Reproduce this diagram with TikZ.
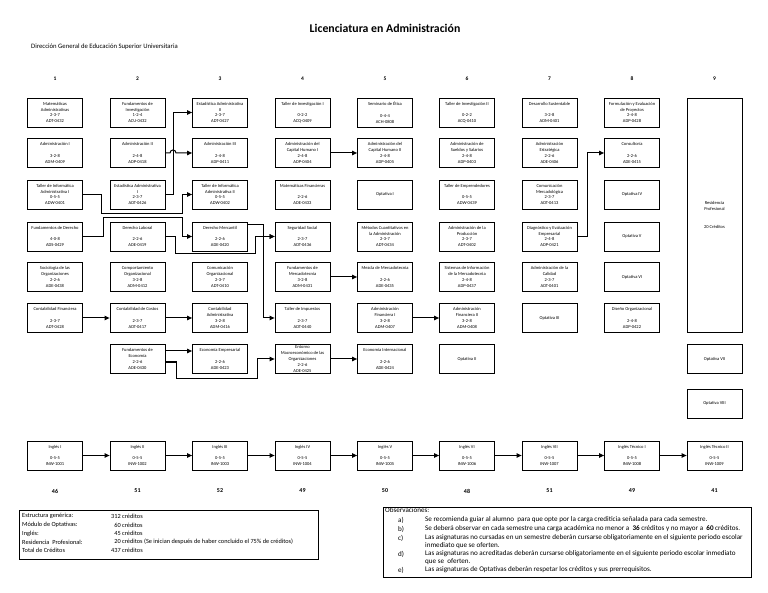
\documentclass[tikz,border=0pt]{standalone}
\usepackage{fontspec}
\setmainfont{Carlito}
\usetikzlibrary{positioning, arrows.meta}

\tikzset{
  materia/.style={draw, line width=0.8pt, minimum width=55pt, minimum height=29pt,
    inner sep=0pt, align=center, font=\fontsize{4.5}{5.8}\selectfont},
  flecha/.style={line width=1pt, -{Triangle[length=5pt,width=4.5pt]}},
  semestre/.style={font=\bfseries\fontsize{5.5}{6}\selectfont},
  total/.style={font=\bfseries\fontsize{6}{7}\selectfont},
  nota/.style={anchor=west, inner sep=0pt, font=\fontsize{6.3}{7}\selectfont},
  obsnota/.style={anchor=west, inner sep=0pt, font=\fontsize{7.1}{7.5}\selectfont},
}

\begin{document}
\begin{tikzpicture}[x=1pt,y=-1pt]
\useasboundingbox (0,0) rectangle (768,593);

\node[font=\bfseries\fontsize{11.8}{13}\selectfont] (titulo) at (385,28) {Licenciatura en Administración};
\node[anchor=west, inner sep=0pt, font=\fontsize{6.7}{7}\selectfont] (dgest) at (31,47) {Dirección General de Educación Superior Universitaria};

% semestres
\node[semestre] (N1) at (55,79) {1};
\node[semestre] (N2) at (137.5,79) {2};
\node[semestre] (N3) at (220,79) {3};
\node[semestre] (N4) at (302.5,79) {4};
\node[semestre] (N5) at (385,79) {5};
\node[semestre] (N6) at (467,79) {6};
\node[semestre] (N7) at (549.5,79) {7};
\node[semestre] (N8) at (632,79) {8};
\node[semestre] (N9) at (714.5,79) {9};

% semestre 1
\node[materia] (S11) at (55,112.5) {Matemáticas\\Administrativas\\2-3-7\\ADT-0432};
\node[materia] (S12) at (55,153) {Administración I\\[5.8pt]3-2-8\\ADM-0409};
\node[materia] (S13) at (55,194.5) {Taller de Informática\\Administrativa I\\0-5-5\\ADW-0401};
\node[materia] (S14) at (55,236.5) {Fundamentos de Derecho\\[5.8pt]4-0-8\\ADS-0429};
\node[materia] (S15) at (55,277) {Sociología de las\\Organizaciones\\2-2-6\\ADE-0438};
\node[materia] (S16) at (55,318) {Contabilidad Financiera\\[5.8pt]2-3-7\\ADT-0428};

% semestre 2
\node[materia] (S21) at (137.5,112.5) {Fundamentos de\\Investigación\\1-2-4\\ACU-0432};
\node[materia] (S22) at (137.5,153) {Administración II\\[5.8pt]2-4-8\\ADP-0418};
\node[materia] (S23) at (137.5,194.5) {Estadística Administrativa\\I\\2-3-7\\ADT-0426};
\node[materia] (S24) at (137.5,236.5) {Derecho Laboral\\[5.8pt]2-2-6\\ADE-0419};
\node[materia] (S25) at (137.5,277) {Comportamiento\\Organizacional\\3-2-8\\ADM-0412};
\node[materia] (S26) at (137.5,318) {Contabilidad de Costos\\[5.8pt]2-3-7\\ADT-0417};
\node[materia] (S27) at (137.5,359) {Fundamentos de\\Economía\\2-2-6\\ADE-0430};

% semestre 3
\node[materia] (S31) at (220,112.5) {Estadística Administrativa\\II\\2-3-7\\ADT-0427};
\node[materia] (S32) at (220,153) {Administración III\\[5.8pt]2-4-8\\ADP-0411};
\node[materia] (S33) at (220,194.5) {Taller de Informática\\Administrativa II\\0-5-5\\ADW-0402};
\node[materia] (S34) at (220,236.5) {Derecho Mercantil\\[5.8pt]2-2-6\\ADE-0420};
\node[materia] (S35) at (220,277) {Comunicación\\Organizacional\\2-3-7\\ADT-0410};
\node[materia] (S36) at (220,318) {Contabilidad\\Administrativa\\3-2-8\\ADM-0416};
\node[materia] (S37) at (220,359) {Economía Empresarial\\[5.8pt]2-2-6\\ADE-0423};

% semestre 4
\node[materia] (S41) at (302.5,112.5) {Taller de Investigación I\\[5.8pt]0-2-2\\ACQ-0409};
\node[materia] (S42) at (302.5,153) {Administración del\\Capital Humano I\\2-4-8\\ADP-0404};
\node[materia] (S43) at (302.5,194.5) {Matemáticas Financieras\\[5.8pt]2-2-6\\ADE-0433};
\node[materia] (S44) at (302.5,236.5) {Seguridad Social\\[5.8pt]2-3-7\\ADT-0436};
\node[materia] (S45) at (302.5,277) {Fundamentos de\\Mercadotecnia\\3-2-8\\ADM-0431};
\node[materia] (S46) at (302.5,318) {Taller de Impuestos\\[5.8pt]2-3-7\\ADT-0440};
\node[materia] (S47) at (302.5,359) {Entorno\\Macroeconómico de las\\Organizaciones\\2-2-6\\ADE-0425};

% semestre 5
\node[materia] (S51) at (385,112.5) {Seminario de Ética\\[5.8pt]0-4-4\\ACH-0808};
\node[materia] (S52) at (385,153) {Administración del\\Capital Humano II\\2-4-8\\ADP-0405};
\node[materia] (S53) at (385,194.5) {Optativa I};
\node[materia] (S54) at (385,236.5) {Métodos Cuantitativos en\\la Administración\\2-3-7\\ADT-0434};
\node[materia] (S55) at (385,277) {Mezcla de Mercadotecnia\\[5.8pt]2-2-6\\ADE-0435};
\node[materia] (S56) at (385,318) {Administración\\Financiera I\\3-2-8\\ADM-0407};
\node[materia] (S57) at (385,359) {Economía Internacional\\[5.8pt]2-2-6\\ADE-0424};

% semestre 6
\node[materia] (S61) at (467,112.5) {Taller de Investigación II\\[5.8pt]0-2-2\\ACQ-0410};
\node[materia] (S62) at (467,153) {Administración de\\Sueldos y Salarios\\2-4-8\\ADP-0403};
\node[materia] (S63) at (467,194.5) {Taller de Emprendedores\\[5.8pt]0-5-5\\ADW-0439};
\node[materia] (S64) at (467,236.5) {Administración de la\\Producción\\2-3-7\\ADT-0402};
\node[materia] (S65) at (467,277) {Sistemas de Información\\de la Mercadotecnia\\2-4-8\\ADP-0437};
\node[materia] (S66) at (467,318) {Administración\\Financiera II\\3-2-8\\ADM-0408};
\node[materia] (S67) at (467,359) {Optativa II};

% semestre 7
\node[materia] (S71) at (549.5,112.5) {Desarrollo Sustentable\\[5.8pt]3-2-8\\ADM-0401};
\node[materia] (S72) at (549.5,153) {Administración\\Estratégica\\2-2-6\\ADE-0406};
\node[materia] (S73) at (549.5,194.5) {Comunicación\\Mercadológica\\2-3-7\\ADT-0413};
\node[materia] (S74) at (549.5,236.5) {Diagnóstico y Evaluación\\Empresarial\\2-4-8\\ADP-0421};
\node[materia] (S75) at (549.5,277) {Administración de la\\Calidad\\2-3-7\\ADT-0401};
\node[materia] (S76) at (549.5,318) {Optativa III};

% semestre 8
\node[materia] (S81) at (632,112.5) {Formulación y Evaluación\\de Proyectos\\2-4-8\\ADP-0428};
\node[materia] (S82) at (632,153) {Consultoría\\[5.8pt]2-2-6\\ADE-0415};
\node[materia] (S83) at (632,194.5) {Optativa IV};
\node[materia] (S84) at (632,236.5) {Optativa V};
\node[materia] (S85) at (632,277) {Optativa VI};
\node[materia] (S86) at (632,318) {Diseño Organizacional\\[5.8pt]2-4-8\\ADP-0422};

% semestre 9
\node[materia, minimum height=234pt] (R) at (714.5,215) {Residencia\\Profesional\\[12pt]20 Créditos};
\node[materia] (S97) at (714.5,359) {Optativa VII};
\node[materia] (S98) at (714.5,403.5) {Optativa VIII};

% ingles
\node[materia] (I1) at (55,455.5) {Inglés I\\[5.8pt]0-5-5\\INW-1001};
\node[materia] (I2) at (137.5,455.5) {Inglés II\\[5.8pt]0-5-5\\INW-1002};
\node[materia] (I3) at (220,455.5) {Inglés III\\[5.8pt]0-5-5\\INW-1003};
\node[materia] (I4) at (302.5,455.5) {Inglés IV\\[5.8pt]0-5-5\\INW-1004};
\node[materia] (I5) at (385,455.5) {Inglés V\\[5.8pt]0-5-5\\INW-1005};
\node[materia] (I6) at (467,455.5) {Inglés VI\\[5.8pt]0-5-5\\INW-1006};
\node[materia] (I7) at (549.5,455.5) {Inglés VII\\[5.8pt]0-5-5\\INW-1007};
\node[materia] (I8) at (632,455.5) {Inglés Técnico I\\[5.8pt]0-5-5\\INW-1008};
\node[materia] (I9) at (714.5,455.5) {Inglés Técnico II\\[5.8pt]0-5-5\\INW-1009};

% creditos por semestre
\node[total] (T1) at (55,491) {46};
\node[total] (T2) at (137.5,491) {51};
\node[total] (T3) at (220,491) {52};
\node[total] (T4) at (302.5,491) {49};
\node[total] (T5) at (385,491) {50};
\node[total] (T6) at (467,491) {48};
\node[total] (T7) at (549.5,491) {51};
\node[total] (T8) at (632,491) {49};
\node[total] (T9) at (714.5,491) {41};

% seriacion
\draw[flecha] (S22.east) -- (170,153) .. controls (170,149) and (176,149) .. (176,153) -- (S32.west);
\draw[flecha] (S23.east) -- (173,194.5) |- (S31.west);
\draw[flecha] (S13.east) -- (101.5,194.5) |- (182,213.5) |- (S33.west);
\draw[flecha] (S14.east) -- (103.5,236.5) |- (182,218) |- (S34.west);
\draw[flecha] ([yshift=11.5pt]S34.east) -- (263,225) |- (S44.west);
\draw[flecha] ([yshift=11.5pt]S34.east) -- (263,225) |- (S46.west);
\draw[flecha] (S24.east) -- (175,236.5) |- (255,254) |- (S44.west);
\draw[flecha] (S16) -- (S26);
\draw[flecha] (S26) -- (S36);
\draw[flecha] (S42) -- (S52);
\draw[flecha] (S45) -- (S55);
\draw[flecha] (S56) -- (S66);
\draw[flecha] ([yshift=8pt]S27.east) -- ([yshift=8pt]S37.west);
\draw[flecha] ([yshift=-3pt]S27.east) -- (176,362) |- (257,378) |- (S47.west);
\draw[flecha] (S47) -- (S57);
\draw[flecha] (S74.east) -- (587,236.5) |- (S82.west);
\draw[flecha] (I1) -- (I2);
\draw[flecha] (I2) -- (I3);
\draw[flecha] (I3) -- (I4);
\draw[flecha] (I4) -- (I5);
\draw[flecha] (I5) -- (I6);
\draw[flecha] (I6) -- (I7);
\draw[flecha] (I7) -- (I8);
\draw[flecha] (I8) -- (I9);

% resumen de creditos
\node[draw, line width=0.8pt, anchor=north west, minimum width=299pt, minimum height=49pt] (resumen) at (19,510) {};
\node[nota] (E1) at (22,516) {Estructura genérica:};
\node[nota] (E2) at (22,525) {Módulo de Optativas:};
\node[nota] (E3) at (22,533.5) {Inglés:};
\node[nota] (E4) at (22,542) {Residencia\ \ Profesional:};
\node[nota] (E5) at (22,550.5) {Total de Créditos};
\node[nota] (V1) at (111,516) {312 créditos};
\node[nota] (V2) at (111,525) {\hphantom{3}60 créditos};
\node[nota] (V3) at (111,533.5) {\hphantom{3}45 créditos};
\node[nota] (V4) at (111,542) {\hphantom{3}20 créditos (Se inician después de haber concluido el 75\% de créditos)};
\node[nota] (V5) at (111,550.5) {437 créditos};

% observaciones
\node[draw, line width=0.8pt, anchor=north west, minimum width=368pt, minimum height=70pt] (obs) at (383,507) {};
\node[obsnota] (O0) at (385,510) {Observaciones:};
\node[obsnota] (Oa) at (398,520) {a)};
\node[obsnota] (Ob) at (398,529) {b)};
\node[obsnota] (Oc) at (398,538) {c)};
\node[obsnota] (Od) at (398,554) {d)};
\node[obsnota] (Oe) at (398,570) {e)};
\node[obsnota] (Ta) at (425,520) {Se recomienda guiar al alumno\ \ para que opte por la carga crediticia señalada para cada semestre.};
\node[obsnota] (Tb) at (425,529) {Se deberá observar en cada semestre una carga académica no menor a\ \ \textbf{36} créditos y no mayor a\ \ \textbf{60} créditos.};
\node[obsnota] (Tc) at (425,538) {Las asignaturas no cursadas en un semestre deberán cursarse obligatoriamente en el siguiente periodo escolar};
\node[obsnota] (Tc2) at (425,546) {inmediato que se oferten.};
\node[obsnota] (Td) at (425,554) {Las asignaturas no acreditadas deberán cursarse obligatoriamente en el siguiente periodo escolar inmediato};
\node[obsnota] (Td2) at (425,562) {que se\ \ oferten.};
\node[obsnota] (Te) at (425,570) {Las asignaturas de Optativas deberán respetar los créditos y sus prerrequisitos.};

\end{tikzpicture}
\end{document}
